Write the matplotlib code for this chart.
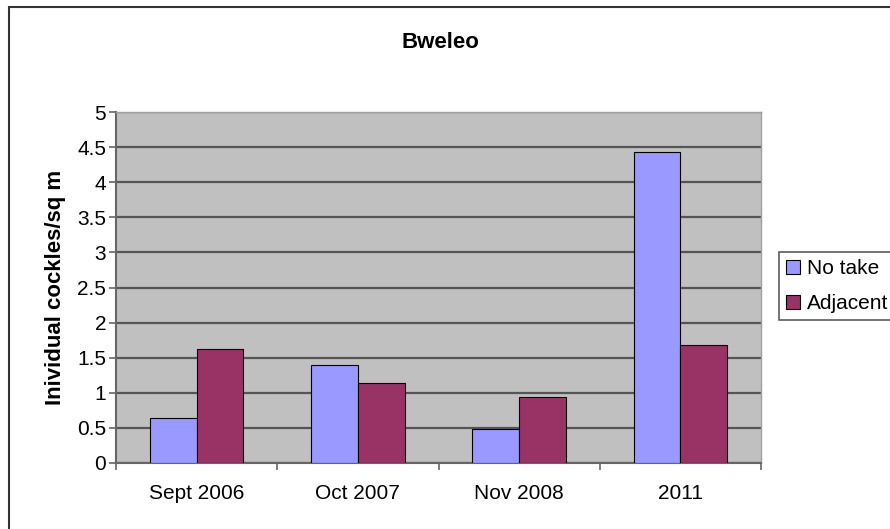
import numpy as np
import matplotlib
matplotlib.use('Agg')
import matplotlib.pyplot as plt
from matplotlib.patches import Rectangle

plt.rcParams['font.family'] = ['Liberation Sans', 'DejaVu Sans']

categories = ['Sept 2006', 'Oct 2007', 'Nov 2008', '2011']
no_take = [0.64, 1.40, 0.48, 4.43]
adjacent = [1.62, 1.14, 0.94, 1.68]
series_names = ['No take', 'Adjacent']
colors = ['#9999FF', '#993366']

fig = plt.figure(figsize=(8.9, 5.29), dpi=100)
W, H = 890, 529
# plot area in pixels: left 116, right 761, top 112, bottom 463
ax = fig.add_axes([116 / W, 1 - 463 / H, (761 - 116) / W, (463 - 112) / H])
ax.set_facecolor('#C0C0C0')

x = np.arange(len(categories))
w = 0.29
ax.bar(x - w / 2, no_take, w, color=colors[0], edgecolor='black', linewidth=0.8,
       label=series_names[0], zorder=3)
ax.bar(x + w / 2, adjacent, w, color=colors[1], edgecolor='black', linewidth=0.8,
       label=series_names[1], zorder=3)

ax.set_xlim(-0.5, len(categories) - 0.5)
ax.set_ylim(0, 5)
ax.set_yticks(np.arange(0, 5.01, 0.5))
ax.set_yticklabels(['0', '0.5', '1', '1.5', '2', '2.5', '3', '3.5', '4', '4.5', '5'])
ax.yaxis.grid(True, color='#555555', linewidth=1.6, zorder=1)
ax.set_axisbelow(True)

ax.set_xticks(x)
ax.set_xticklabels(categories)
ax.tick_params(axis='x', length=0, pad=15, labelsize=15)
ax.set_xticks(np.arange(-0.5, len(categories)), minor=True)
ax.tick_params(axis='x', which='minor', length=5, color='#666666', width=1.2)
ax.tick_params(axis='y', length=5, color='#666666', width=1.2, labelsize=15, pad=2)

for s in ['left', 'bottom']:
    ax.spines[s].set_color('#666666')
    ax.spines[s].set_linewidth(1.5)
for s in ['top', 'right']:
    ax.spines[s].set_color('#A0A0A0')
    ax.spines[s].set_linewidth(1.0)

ax.set_ylabel('Inividual cockles/sq m', fontweight='bold', fontsize=16, labelpad=8)
fig.text(440 / W, 1 - 42 / H, 'Bweleo', ha='center', va='center',
         fontweight='bold', fontsize=16)

leg = fig.legend(loc='upper left', bbox_to_anchor=(779 / W, 1 - 252 / H),
                 fontsize=15, frameon=True, fancybox=False, edgecolor='#333333',
                 handlelength=0.65, handleheight=0.65, handletextpad=0.35,
                 borderpad=0.35, labelspacing=0.75, borderaxespad=0)
leg.get_frame().set_linewidth(1.2)

# outer chart border
fig.patches.append(Rectangle((9 / W, -0.05), 1.0, 1 - 7 / H + 0.05,
                             transform=fig.transFigure, fill=False,
                             edgecolor='#333333', linewidth=1.5))

fig.savefig('out.png', dpi=100)
